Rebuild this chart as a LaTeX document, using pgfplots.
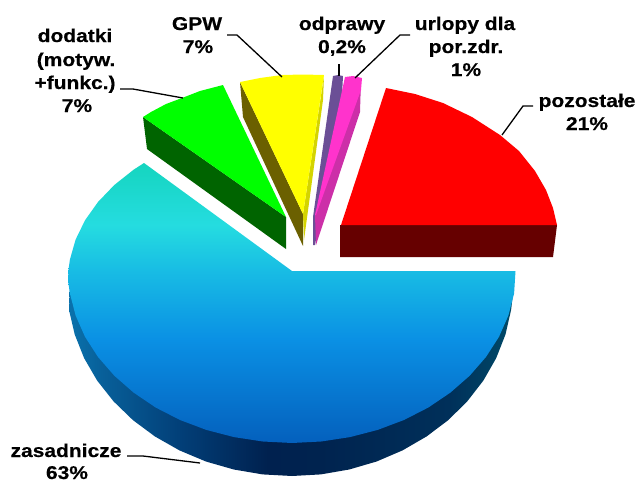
\documentclass[border=0pt]{standalone}
\usepackage{pgfplots}
\pgfplotsset{compat=1.18}
\usepackage{fontspec}
\setmainfont[BoldFeatures={FakeBold=0.4}]{Liberation Sans}
\definecolor{t1}{HTML}{15D5BF}
\definecolor{t2}{HTML}{25DCE0}
\definecolor{t3}{HTML}{18BCE4}
\definecolor{t4}{HTML}{0A90E4}
\definecolor{t5}{HTML}{0460BD}
\definecolor{s1}{HTML}{0A72AC}
\definecolor{s2}{HTML}{08609A}
\definecolor{s3}{HTML}{023F78}
\definecolor{s4}{HTML}{00214F}
\definecolor{s5}{HTML}{00234F}
\definecolor{s6}{HTML}{00305A}
\definecolor{s7}{HTML}{004A68}
\pgfdeclareverticalshading{pietop}{100bp}{color(0bp)=(t5);color(25bp)=(t5);color(43.4bp)=(t4);color(55.7bp)=(t3);color(63.9bp)=(t2);color(75bp)=(t1);color(100bp)=(t1)}
\pgfdeclarehorizontalshading{pieside}{100bp}{color(0bp)=(s1);color(25bp)=(s1);color(28.6bp)=(s2);color(37.5bp)=(s3);color(47.3bp)=(s4);color(53.2bp)=(s5);color(67.7bp)=(s6);color(75bp)=(s7);color(100bp)=(s7)}
\newcommand{\lab}[1]{\scalebox{1.135}[1]{\fontsize{18.5bp}{23bp}\selectfont\bfseries #1}}
\begin{document}
\begin{tikzpicture}
\path[use as bounding box] (0,0) rectangle (637bp,480bp);
\begin{axis}[
  scale only axis, width=637bp, height=480bp,
  xmin=0, xmax=637, ymin=0, ymax=480, y dir=reverse,
  hide axis, clip=false, no markers,
  every axis plot/.append style={draw=none, line join=round},
]
% main slice: side
\addplot[shading=pieside] coordinates {(70,285)(514,285)(511.1,309.9)(505.5,334.4)(496.2,358.1)(483.4,380.5)(467.3,401.3)(448.3,420.1)(426.5,436.5)(402.5,450.4)(376.6,461.5)(349.2,469.5)(320.8,474.4)(292,476)(262.6,474.4)(233.8,469.5)(205.9,461.5)(179.5,450.4)(155,436.5)(132.9,420.1)(113.5,401.3)(97.1,380.5)(84.1,358.1)(74.7,334.4)(69,309.9)} -- cycle;
% main slice: top face
\addplot[shading=pietop] coordinates {(292,271)(515.5,271)(514.1,293.4)(508.4,315.5)(499,336.8)(486,357)(469.7,375.7)(450.4,392.6)(428.4,407.5)(404,420)(377.7,429.9)(350,437.1)(321.2,441.5)(292,443)(262.8,441.5)(234,437.1)(206.3,429.9)(180,420)(155.6,407.5)(133.6,392.6)(114.3,375.7)(98,357)(85,336.8)(75.6,315.5)(69.9,293.4)(68,280)(68.5,269.8)(69.9,259.6)(75.6,239.6)(85,220.3)(98,202)(114.3,185)(133.6,169.7)(144,163)} -- cycle;
% green
\addplot[fill={rgb,255:red,0;green,100;blue,0}] coordinates {(143,117)(286,217)(286,249)(147,149)} -- cycle;
\addplot[fill={rgb,255:red,0;green,255;blue,0}] coordinates {(143,117)(151,112)(166,104)(182,98)(200,91)(223,85)(286,217)} -- cycle;
% yellow
\addplot[fill={rgb,255:red,107;green,96;blue,0}] coordinates {(240,82)(303,214)(303,246)(243,117)} -- cycle;
\addplot[fill={rgb,255:red,212;green,212;blue,0}] coordinates {(324,76)(323,100)(304,240)(303,214)} -- cycle;
\addplot[fill={rgb,255:red,255;green,255;blue,0}] coordinates {(240,82)(260,78)(282,75)(303,74.5)(324,75)(303,214)} -- cycle;
% purple
\addplot[fill={rgb,255:red,107;green,79;blue,150}] coordinates {(333,76)(338,75)(343,76)(342,95)(315,245)(313,245)(313,217)} -- cycle;
% magenta
\addplot[fill={rgb,255:red,204;green,47;blue,168}] coordinates {(361,80)(360,112)(316,245)(315,215)} -- cycle;
\addplot[fill={rgb,255:red,255;green,51;blue,204}] coordinates {(345,77)(353,76)(362,78)(361,90)(316,215)(315,215)} -- cycle;
% red
\addplot[fill={rgb,255:red,102;green,0;blue,0}] coordinates {(340,225)(557,225)(553,257)(340,257)} -- cycle;
\addplot[fill={rgb,255:red,255;green,0;blue,0}] coordinates {(341,225)(386,88)(415,94)(443,103)(472,117)(500,135)(519,151)(535,171)(546,190)(553,208)(557,225)} -- cycle;
% leaders
\addplot[draw=black, line width=1.3bp] coordinates {(120,89)(133,89)(183,98)};
\addplot[draw=black, line width=1.3bp] coordinates {(227,35)(237,35)(282,77)};
\addplot[draw=black, line width=1.3bp] coordinates {(339,64)(339,76)};
\addplot[draw=black, line width=1.3bp] coordinates {(410,35)(400,35)(355,78)};
\addplot[draw=black, line width=1.3bp] coordinates {(533,106)(523,106)(502,135)};
\addplot[draw=black, line width=1.3bp] coordinates {(127,456)(143,456)(200,463)};
% labels
\node[anchor=base, inner sep=0pt] at (axis cs:75,42) {\lab{dodatki}};
\node[anchor=base, inner sep=0pt] at (axis cs:76,66) {\lab{(motyw.}};
\node[anchor=base, inner sep=0pt] at (axis cs:75,89) {\lab{+funkc.)}};
\node[anchor=base, inner sep=0pt] at (axis cs:77,112) {\lab{7\%}};
\node[anchor=base, inner sep=0pt] at (axis cs:197,30) {\lab{GPW}};
\node[anchor=base, inner sep=0pt] at (axis cs:198,53) {\lab{7\%}};
\node[anchor=base, inner sep=0pt] at (axis cs:342,30) {\lab{odprawy}};
\node[anchor=base, inner sep=0pt] at (axis cs:342,53) {\lab{0,2\%}};
\node[anchor=base, inner sep=0pt] at (axis cs:465,30) {\lab{urlopy dla}};
\node[anchor=base, inner sep=0pt] at (axis cs:466,53) {\lab{por.zdr.}};
\node[anchor=base, inner sep=0pt] at (axis cs:466,76) {\lab{1\%}};
\node[anchor=base, inner sep=0pt] at (axis cs:587,107) {\lab{pozostałe}};
\node[anchor=base, inner sep=0pt] at (axis cs:587,130) {\lab{21\%}};
\node[anchor=base, inner sep=0pt] at (axis cs:66,457) {\lab{zasadnicze}};
\node[anchor=base, inner sep=0pt] at (axis cs:67,479) {\lab{63\%}};
\end{axis}
\end{tikzpicture}
\end{document}
